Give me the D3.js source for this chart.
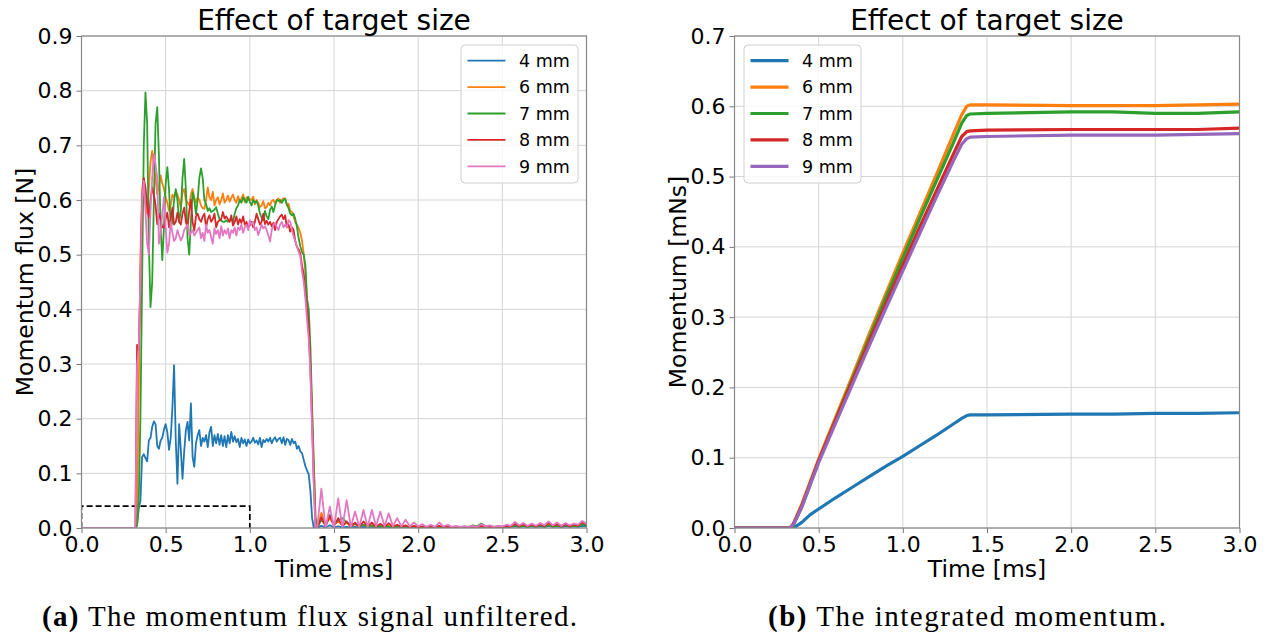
<!DOCTYPE html>
<html><head><meta charset="utf-8">
<script src="https://cdn.jsdelivr.net/npm/d3@7"></script>
<style>
body{margin:0;background:#fff;}
svg{display:block;}
</style></head><body>
<svg id="chart" width="1268" height="639"></svg>
<script>
// ---------- data ----------
const seriesLabels = ["4 mm", "6 mm", "7 mm", "8 mm", "9 mm"];
const fluxColors = ["#1f77b4", "#ff7f0e", "#2ca02c", "#d62728", "#e377c2"];
const momColors  = ["#1f77b4", "#ff7f0e", "#2ca02c", "#d62728", "#9467bd"];
const xTicks = [0, 0.5, 1.0, 1.5, 2.0, 2.5, 3.0];
const fluxYTicks = [0, 0.1, 0.2, 0.3, 0.4, 0.5, 0.6, 0.7, 0.8, 0.9];
const momYTicks = [0, 0.1, 0.2, 0.3, 0.4, 0.5, 0.6, 0.7];
const titleText = "Effect of target size";
const xLabel = "Time [ms]";
const fluxYLabel = "Momentum flux [N]";
const momYLabel = "Momentum [mNs]";

// sampling grid of the flux signal (ms)
const fluxTimeStart = [0.0];
const fluxTimeMain = d3.range(30, 140).map(i => i / 100);      // 0.30 .. 1.39
const fluxTimeTail = d3.range(0, 65).map(i => 1.40 + i * 0.025); // 1.40 .. 3.00

const flux4Main = [
  0, 0, 0, 0.005, 0.035, 0.05, 0.13, 0.135, 0.128, 0.122,
  0.16, 0.165, 0.185, 0.195, 0.19, 0.15, 0.145, 0.16, 0.165, 0.18,
  0.19, 0.175, 0.143, 0.165, 0.22, 0.298, 0.16, 0.081, 0.19, 0.143,
  0.09, 0.14, 0.179, 0.194, 0.16, 0.228, 0.13, 0.112, 0.155, 0.17,
  0.179, 0.15, 0.165, 0.158, 0.17, 0.148, 0.175, 0.185, 0.15, 0.17,
  0.155, 0.172, 0.152, 0.17, 0.15, 0.168, 0.148, 0.17, 0.155, 0.176,
  0.158, 0.168, 0.157, 0.163, 0.148, 0.165, 0.155, 0.162, 0.15, 0.162,
  0.155, 0.158, 0.165, 0.156, 0.16, 0.153, 0.165, 0.148, 0.161, 0.157,
  0.163, 0.158, 0.165, 0.155, 0.162, 0.166, 0.158, 0.163, 0.165, 0.155,
  0.166, 0.152, 0.163, 0.161, 0.152, 0.163, 0.155, 0.158, 0.145, 0.15,
  0.14, 0.137, 0.125, 0.113, 0.105, 0.098, 0.067, 0.018, 0, 0];
const flux4Tail = [
  0, 0.004, 0.001, 0.005, 0.001, 0.003, 0.001, 0.002, 0.001, 0.002,
  0.001, 0.002, 0.001, 0.002, 0.001, 0.001, 0.001, 0.001, 0.001, 0.001,
  0.001, 0.001, 0.001, 0.001, 0.001, 0.001, 0.001, 0.001, 0.001, 0.001,
  0.001, 0.001, 0.001, 0.001, 0.001, 0.001, 0.002, 0.001, 0.002, 0.001,
  0.002, 0.001, 0.002, 0.001, 0.002, 0.001, 0.002, 0.003, 0.002, 0.003,
  0.002, 0.003, 0.002, 0.003, 0.002, 0.004, 0.002, 0.003, 0.002, 0.003,
  0.002, 0.003, 0.002, 0.004, 0.003];

const flux6Main = [
  0, 0, 0, 0.02, 0.25, 0.5, 0.62, 0.64, 0.60, 0.575,
  0.62, 0.67, 0.69, 0.66, 0.64, 0.61, 0.625, 0.645, 0.63, 0.62,
  0.605, 0.595, 0.58, 0.59, 0.61, 0.605, 0.615, 0.61, 0.60, 0.585,
  0.615, 0.62, 0.60, 0.595, 0.59, 0.61, 0.62, 0.605, 0.595, 0.605,
  0.60, 0.59, 0.585, 0.584, 0.60, 0.623, 0.605, 0.60, 0.615, 0.59,
  0.60, 0.605, 0.592, 0.60, 0.612, 0.595, 0.60, 0.608, 0.597, 0.604,
  0.61, 0.60, 0.595, 0.607, 0.598, 0.603, 0.61, 0.596, 0.605, 0.60,
  0.602, 0.60, 0.606, 0.592, 0.60, 0.595, 0.587, 0.59, 0.598, 0.585,
  0.587, 0.595, 0.59, 0.598, 0.60, 0.594, 0.60, 0.603, 0.595, 0.60,
  0.603, 0.603, 0.59, 0.593, 0.58, 0.578, 0.57, 0.56, 0.555, 0.548,
  0.54, 0.525, 0.502, 0.47, 0.41, 0.36, 0.30, 0.21, 0.11, 0.02];
const flux6Tail = [
  0, 0.028, 0.008, 0.018, 0.006, 0.012, 0.005, 0.01, 0.004, 0.007,
  0.003, 0.006, 0.003, 0.005, 0.002, 0.004, 0.002, 0.004, 0.002, 0.003,
  0.002, 0.003, 0.001, 0.003, 0.001, 0.002, 0.001, 0.002, 0.001, 0.003,
  0.001, 0.002, 0.001, 0.002, 0.001, 0.002, 0.001, 0.002, 0.001, 0.003,
  0.002, 0.003, 0.001, 0.003, 0.002, 0.004, 0.002, 0.006, 0.003, 0.005,
  0.003, 0.005, 0.003, 0.006, 0.003, 0.007, 0.003, 0.006, 0.003, 0.006,
  0.003, 0.005, 0.004, 0.008, 0.005];

const flux7Main = [
  0, 0, 0, 0.005, 0.05, 0.2, 0.45, 0.70, 0.797, 0.74,
  0.52, 0.404, 0.45, 0.60, 0.74, 0.77, 0.68, 0.55, 0.49, 0.55,
  0.63, 0.66, 0.62, 0.55, 0.56, 0.60, 0.62, 0.60, 0.56, 0.58,
  0.64, 0.675, 0.62, 0.53, 0.50, 0.56, 0.614, 0.60, 0.574, 0.60,
  0.64, 0.658, 0.64, 0.60, 0.593, 0.58, 0.585, 0.578, 0.58, 0.582,
  0.587, 0.575, 0.565, 0.562, 0.56, 0.56, 0.563, 0.56, 0.562, 0.565,
  0.56, 0.575, 0.585, 0.59, 0.60, 0.595, 0.605, 0.60, 0.595, 0.606,
  0.597, 0.59, 0.60, 0.595, 0.598, 0.59, 0.575, 0.568, 0.563, 0.58,
  0.57, 0.565, 0.582, 0.588, 0.578, 0.59, 0.60, 0.598, 0.60, 0.595,
  0.60, 0.602, 0.592, 0.585, 0.575, 0.572, 0.575, 0.565, 0.551, 0.53,
  0.515, 0.505, 0.50, 0.48, 0.42, 0.40, 0.33, 0.22, 0.12, 0.02];
const flux7Tail = [
  0, 0.015, 0.005, 0.024, 0.006, 0.014, 0.018, 0.01, 0.006, 0.008,
  0.003, 0.006, 0.002, 0.005, 0.002, 0.004, 0.002, 0.003, 0.001, 0.003,
  0.001, 0.002, 0.001, 0.002, 0.001, 0.002, 0.001, 0.002, 0.001, 0.002,
  0.001, 0.002, 0.001, 0.002, 0.001, 0.003, 0.002, 0.005, 0.003, 0.008,
  0.003, 0.004, 0.002, 0.003, 0.002, 0.003, 0.002, 0.005, 0.002, 0.004,
  0.002, 0.004, 0.002, 0.005, 0.002, 0.005, 0.003, 0.004, 0.002, 0.005,
  0.003, 0.004, 0.003, 0.007, 0.004];

const flux8Main = [
  0, 0, 0, 0.335, 0.325, 0.45, 0.60, 0.64, 0.623, 0.59,
  0.568, 0.60, 0.623, 0.61, 0.59, 0.556, 0.575, 0.565, 0.55, 0.55,
  0.565, 0.577, 0.55, 0.565, 0.586, 0.555, 0.56, 0.577, 0.56, 0.555,
  0.575, 0.586, 0.56, 0.55, 0.58, 0.60, 0.56, 0.544, 0.57, 0.575,
  0.565, 0.56, 0.57, 0.575, 0.55, 0.565, 0.572, 0.56, 0.565, 0.575,
  0.55, 0.56, 0.563, 0.565, 0.578, 0.566, 0.57, 0.565, 0.56, 0.572,
  0.553, 0.56, 0.57, 0.555, 0.565, 0.558, 0.57, 0.555, 0.56, 0.55,
  0.554, 0.56, 0.55, 0.56, 0.575, 0.565, 0.555, 0.56, 0.575, 0.556,
  0.562, 0.555, 0.56, 0.552, 0.558, 0.545, 0.56, 0.565, 0.57, 0.573,
  0.565, 0.572, 0.55, 0.555, 0.542, 0.55, 0.545, 0.525, 0.514, 0.51,
  0.502, 0.48, 0.465, 0.43, 0.40, 0.368, 0.29, 0.19, 0.085, 0];
const flux8Tail = [
  0, 0.02, 0.003, 0.022, 0.004, 0.018, 0.003, 0.012, 0.002, 0.01,
  0.002, 0.012, 0.003, 0.01, 0.002, 0.008, 0.002, 0.009, 0.002, 0.006,
  0.002, 0.005, 0.001, 0.004, 0.001, 0.003, 0.001, 0.003, 0.001, 0.004,
  0.001, 0.002, 0.001, 0.002, 0.001, 0.002, 0.001, 0.003, 0.001, 0.004,
  0.002, 0.003, 0.001, 0.003, 0.002, 0.004, 0.002, 0.008, 0.003, 0.007,
  0.003, 0.006, 0.003, 0.007, 0.003, 0.009, 0.004, 0.007, 0.003, 0.007,
  0.003, 0.006, 0.004, 0.011, 0.006];

const flux9Main = [
  0, 0, 0, 0.30, 0.33, 0.46, 0.60, 0.635, 0.58, 0.52,
  0.50, 0.58, 0.64, 0.684, 0.665, 0.64, 0.52, 0.54, 0.575, 0.605,
  0.55, 0.504, 0.52, 0.56, 0.54, 0.525, 0.53, 0.545, 0.535, 0.526,
  0.532, 0.545, 0.55, 0.555, 0.535, 0.54, 0.545, 0.535, 0.54, 0.545,
  0.55, 0.53, 0.54, 0.525, 0.555, 0.54, 0.545, 0.532, 0.52, 0.548,
  0.538, 0.545, 0.53, 0.552, 0.535, 0.545, 0.538, 0.548, 0.53, 0.545,
  0.54, 0.55, 0.535, 0.55, 0.545, 0.555, 0.54, 0.55, 0.555, 0.545,
  0.563, 0.555, 0.56, 0.545, 0.55, 0.536, 0.545, 0.555, 0.548, 0.552,
  0.545, 0.535, 0.524, 0.545, 0.555, 0.558, 0.55, 0.545, 0.555, 0.56,
  0.55, 0.555, 0.55, 0.563, 0.56, 0.545, 0.533, 0.525, 0.515, 0.505,
  0.497, 0.47, 0.45, 0.42, 0.38, 0.345, 0.28, 0.18, 0.08, 0];
const flux9Tail = [
  0, 0.072, 0, 0.039, 0, 0.054, 0, 0.051, 0.002, 0.030,
  0.002, 0.033, 0.002, 0.033, 0.003, 0.030, 0.003, 0.027, 0.003, 0.018,
  0.003, 0.015, 0.003, 0.010, 0.003, 0.007, 0.002, 0.006, 0.002, 0.010,
  0.003, 0.006, 0.002, 0.004, 0.002, 0.003, 0.002, 0.004, 0.002, 0.007,
  0.003, 0.005, 0.002, 0.004, 0.003, 0.006, 0.004, 0.011, 0.005, 0.009,
  0.004, 0.008, 0.004, 0.009, 0.005, 0.012, 0.005, 0.010, 0.004, 0.009,
  0.005, 0.008, 0.006, 0.013, 0.008];

// dashed reference box (time [ms], flux [N])
const boxTimes  = [0, 0, 1.0, 1.0];
const boxValues = [0, 0.04, 0.04, 0];

// integrated momentum
const momTime = [0, 0.30, 0.33, 0.35, 0.40, 0.45, 0.50, 0.60, 0.70, 0.80, 0.90, 1.00,
                 1.10, 1.20, 1.30, 1.35, 1.38, 1.40, 1.50, 2.00, 2.25, 2.50, 2.75, 3.00];
const mom4 = [0, 0, 0, 0, 0.008, 0.019, 0.027, 0.043, 0.058, 0.073, 0.088, 0.102,
              0.117, 0.132, 0.148, 0.156, 0.160, 0.161, 0.161, 0.162, 0.162, 0.163, 0.163, 0.164];
const mom6 = [0, 0, 0, 0.006, 0.034, 0.066, 0.098, 0.157, 0.216, 0.276, 0.334, 0.391,
              0.447, 0.503, 0.560, 0.588, 0.600, 0.602, 0.602, 0.601, 0.601, 0.601, 0.602, 0.603];
const mom7 = [0, 0, 0, 0.004, 0.030, 0.062, 0.095, 0.154, 0.212, 0.270, 0.328, 0.384,
              0.440, 0.494, 0.548, 0.576, 0.587, 0.589, 0.590, 0.592, 0.592, 0.590, 0.590, 0.592];
const mom8 = [0, 0, 0, 0.006, 0.032, 0.064, 0.096, 0.153, 0.209, 0.265, 0.320, 0.374,
              0.428, 0.480, 0.532, 0.557, 0.564, 0.565, 0.566, 0.567, 0.567, 0.567, 0.567, 0.569];
const mom9 = [0, 0, 0, 0.005, 0.030, 0.062, 0.093, 0.149, 0.204, 0.259, 0.313, 0.366,
              0.419, 0.471, 0.522, 0.546, 0.554, 0.556, 0.557, 0.559, 0.559, 0.559, 0.560, 0.561];

const captionA = ["(a)", " The momentum flux signal unfiltered."];
const captionB = ["(b)", " The integrated momentum."];

// ---------- build ----------
const fluxTime = fluxTimeStart.concat(fluxTimeMain, fluxTimeTail);
const fluxSeries = [
  [0].concat(flux4Main, flux4Tail),
  [0].concat(flux6Main, flux6Tail),
  [0].concat(flux7Main, flux7Tail),
  [0].concat(flux8Main, flux8Tail),
  [0].concat(flux9Main, flux9Tail)
];
const momSeries = [mom4, mom6, mom7, mom8, mom9];

const svg = d3.select("#chart");
const FONT = "DejaVu Sans, sans-serif";

function panel(o) {
  const x = d3.scaleLinear().domain([0, 3]).range([o.left, o.right]);
  const y = d3.scaleLinear().domain([0, o.yMax]).range([o.bottom, o.top]);
  const g = svg.append("g");

  // grid
  g.append("g").selectAll("line").data(xTicks).join("line")
    .attr("x1", d => x(d)).attr("x2", d => x(d))
    .attr("y1", o.top).attr("y2", o.bottom)
    .attr("stroke", "#d4d4d4").attr("stroke-width", 1);
  g.append("g").selectAll("line").data(o.yTicks).join("line")
    .attr("x1", o.left).attr("x2", o.right)
    .attr("y1", d => y(d)).attr("y2", d => y(d))
    .attr("stroke", "#d4d4d4").attr("stroke-width", 1);

  // clip
  svg.append("clipPath").attr("id", "clip" + o.id).append("rect")
    .attr("x", o.left).attr("y", o.top - 2)
    .attr("width", o.right - o.left).attr("height", o.bottom - o.top + 2);

  const plot = g.append("g").attr("clip-path", `url(#clip${o.id})`);
  const line = d3.line().x(d => x(d[0])).y(d => y(d[1]));

  if (o.box) {
    plot.append("path")
      .attr("d", line(o.box[0].map((t, i) => [t, o.box[1][i]])))
      .attr("fill", "none").attr("stroke", "#000")
      .attr("stroke-width", 1.7).attr("stroke-dasharray", "6,3");
  }

  o.series.forEach((vals, si) => {
    plot.append("path")
      .attr("d", line(o.time.map((t, i) => [t, vals[i]])))
      .attr("fill", "none").attr("stroke", o.colors[si])
      .attr("stroke-width", o.lw).attr("stroke-linejoin", "round");
  });

  // axes
  const xa = g.append("g").attr("transform", `translate(0,${o.bottom})`)
    .call(d3.axisBottom(x).tickValues(xTicks).tickFormat(d3.format(".1f"))
      .tickSize(5).tickPadding(3).tickSizeOuter(0));
  const ya = g.append("g").attr("transform", `translate(${o.left},0)`)
    .call(d3.axisLeft(y).tickValues(o.yTicks).tickFormat(d3.format(".1f"))
      .tickSize(5).tickPadding(4).tickSizeOuter(0));
  [xa, ya].forEach(a => {
    a.select(".domain").remove();
    a.attr("font-family", FONT).attr("font-size", 22);
    a.selectAll("line").attr("stroke", "#777");
    a.selectAll("text").attr("fill", "#000");
  });

  // frame
  g.append("rect").attr("x", o.left).attr("y", o.top)
    .attr("width", o.right - o.left).attr("height", o.bottom - o.top)
    .attr("fill", "none").attr("stroke", "#888").attr("stroke-width", 1.2);

  // title & labels
  g.append("text").attr("x", (o.left + o.right) / 2).attr("y", 30)
    .attr("text-anchor", "middle").attr("font-family", FONT).attr("font-size", 28)
    .text(titleText);
  g.append("text").attr("x", (o.left + o.right) / 2).attr("y", 577)
    .attr("text-anchor", "middle").attr("font-family", FONT).attr("font-size", 23.5)
    .text(xLabel);
  g.append("text")
    .attr("transform", `translate(${o.yLabelX},${(o.top + o.bottom) / 2}) rotate(-90)`)
    .attr("text-anchor", "middle").attr("font-family", FONT).attr("font-size", 23.5)
    .text(o.yLabel);

  // legend
  const lg = g.append("g");
  lg.append("rect").attr("x", o.legX).attr("y", 45).attr("width", 117).attr("height", 138)
    .attr("rx", 4).attr("fill", "#fff").attr("fill-opacity", 0.8)
    .attr("stroke", "#d0d0d0").attr("stroke-width", 1);
  seriesLabels.forEach((lab, i) => {
    const yy = 60.7 + i * 26.4;
    lg.append("line").attr("x1", o.legX + 6.5).attr("x2", o.legX + 44.5)
      .attr("y1", yy).attr("y2", yy)
      .attr("stroke", o.colors[i]).attr("stroke-width", o.lw);
    lg.append("text").attr("x", o.legX + 58).attr("y", yy).attr("dy", "0.36em")
      .attr("font-family", FONT).attr("font-size", 17.5).text(lab);
  });
}

panel({
  id: "a", left: 81.5, right: 586.5, top: 36, bottom: 528, yMax: 0.9, yTicks: fluxYTicks,
  time: fluxTime, series: fluxSeries, colors: fluxColors, lw: 1.8,
  yLabel: fluxYLabel, yLabelX: 33, legX: 461, box: [boxTimes, boxValues]
});
panel({
  id: "b", left: 734.5, right: 1239.5, top: 36, bottom: 528, yMax: 0.7, yTicks: momYTicks,
  time: momTime, series: momSeries, colors: momColors, lw: 3.2,
  yLabel: momYLabel, yLabelX: 686, legX: 744
});

function caption(parts, x0, len) {
  const t = svg.append("text").attr("x", x0).attr("y", 626)
    .attr("font-family", "Liberation Serif, serif").attr("font-size", 29)
    .attr("textLength", len).attr("lengthAdjust", "spacing");
  t.append("tspan").attr("font-weight", "bold").text(parts[0]);
  t.append("tspan").text(parts[1]);
}
caption(captionA, 42, 535);
caption(captionB, 768, 398);
</script>
</body></html>
